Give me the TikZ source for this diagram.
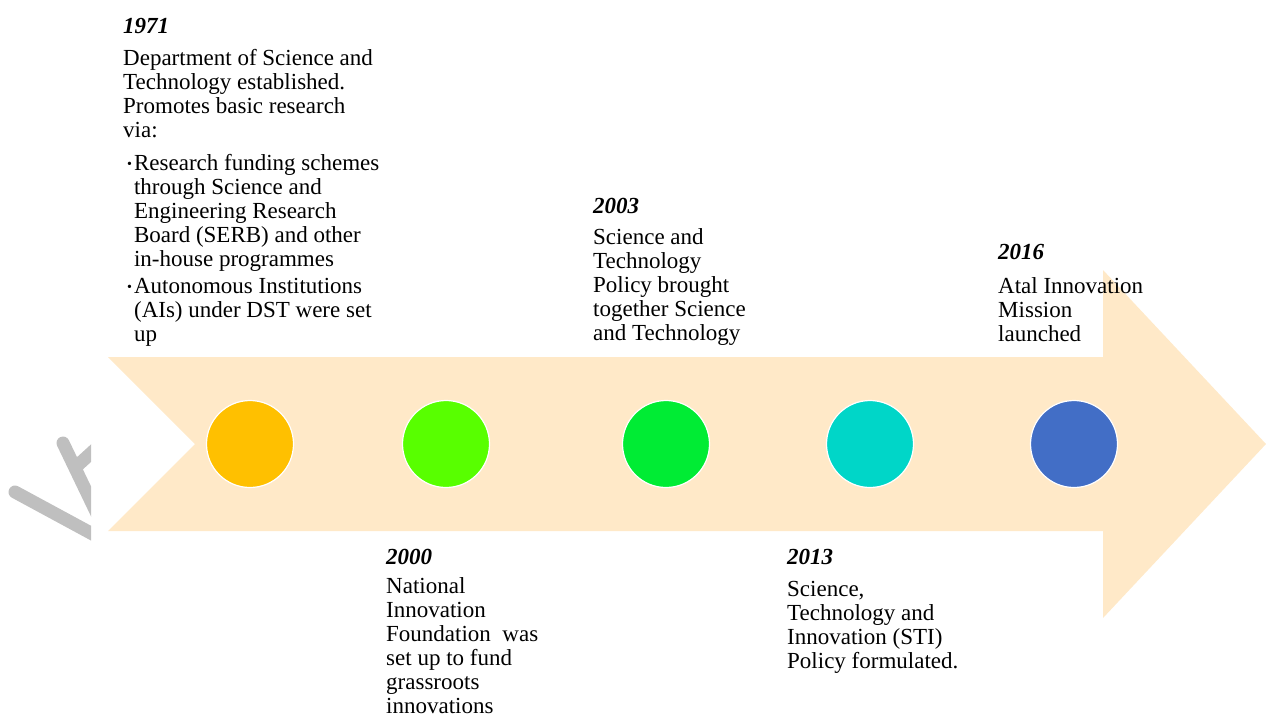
\documentclass[tikz,border=0pt]{standalone}
\usepackage{fontspec}
\setmainfont{Liberation Serif}
\usetikzlibrary{positioning}
\definecolor{arrowpeach}{RGB}{255,233,200}
\definecolor{dotyellow}{RGB}{255,192,0}
\definecolor{dotlime}{RGB}{88,255,0}
\definecolor{dotgreen}{RGB}{0,236,52}
\definecolor{dotteal}{RGB}{0,214,200}
\definecolor{dotblue}{RGB}{66,110,198}
\begin{document}
\begin{tikzpicture}[x=1pt,y=-1pt,
	year/.style={anchor=base west,inner sep=0,font=\fontsize{23}{24}\selectfont\bfseries\itshape},
	event/.style={anchor=base west,inner sep=0,align=left,font=\fontsize{23}{24}\selectfont},
	dot/.style={circle,draw=white,line width=1.2pt,minimum size=87pt,inner sep=0}]
	\useasboundingbox (0,0) rectangle (1266,716);
	% left over of a watermark
	\begin{scope}
		\clip (0,400) rectangle (91,560);
		\draw[gray!50,line width=13pt,line cap=round] (15,492)--(100,538) (63,443)--(100,520) (78,465)--(100,445);
	\end{scope}
	% the arrow
	\fill[arrowpeach] (108,357)--(1103,357)--(1103,270)--(1266,444)--(1103,618)--(1103,531)--(108,531)--(195,444)--cycle;
	\node[dot,fill=dotyellow] (d1971) at (250,444) {};
	\node[dot,fill=dotlime] (d2000) at (446,444) {};
	\node[dot,fill=dotgreen] (d2003) at (666,444) {};
	\node[dot,fill=dotteal] (d2013) at (870,444) {};
	\node[dot,fill=dotblue] (d2016) at (1074,444) {};
	% events (a node's base is the baseline of its last line)
	\node[year] (y1971) at (123,33) {1971};
	\node[event] (t1971) at (123,137) {Department of Science and\\Technology established.\\Promotes basic research\\via:};
	\node[event] (b1971) at (127,170) {\begin{tabular}[t]{@{}l@{\hspace{2pt}}l@{}}
		\raisebox{2pt}{\fontsize{14}{14}\selectfont\textbullet} & Research funding schemes\\
		& through Science and\\
		& Engineering Research\\
		& Board (SERB) and other\\
		& in-house programmes\\[3pt]
		\raisebox{2pt}{\fontsize{14}{14}\selectfont\textbullet} & Autonomous Institutions\\
		& (AIs) under DST were set\\
		& up\end{tabular}};
	\node[year] (y2000) at (386,564) {2000};
	\node[event] (t2000) at (386,713) {National\\Innovation\\Foundation\ \ was\\set up to fund\\grassroots\\innovations};
	\node[year] (y2003) at (593,213) {2003};
	\node[event] (t2003) at (593,340) {Science and\\Technology\\Policy brought\\together Science\\and Technology};
	\node[year] (y2013) at (787,564) {2013};
	\node[event] (t2013) at (787,668) {Science,\\Technology and\\Innovation (STI)\\Policy formulated.};
	\node[year] (y2016) at (998,259) {2016};
	\node[event] (t2016) at (998,341) {Atal Innovation\\Mission\\launched};
\end{tikzpicture}
\end{document}
